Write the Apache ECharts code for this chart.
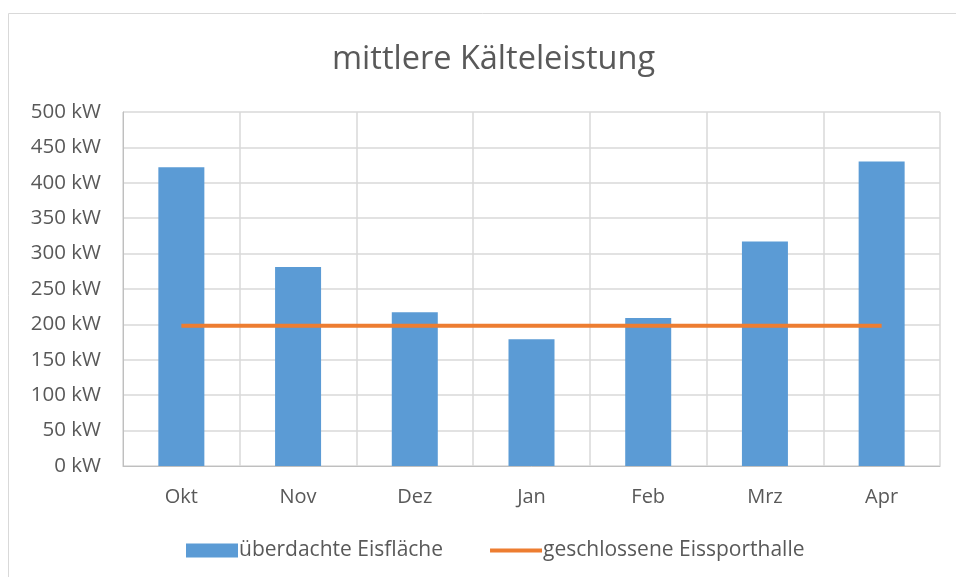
<!DOCTYPE html>
<html>
<head>
<meta charset="utf-8">
<script src="https://cdn.jsdelivr.net/npm/echarts@6/dist/echarts.min.js"></script>
<style>
  html, body { margin: 0; padding: 0; background: #fff; }
  #chart { width: 956px; height: 577px; }
</style>
</head>
<body>
<div id="chart"></div>
<script>
  // Monatswerte
  const months = ['Okt', 'Nov', 'Dez', 'Jan', 'Feb', 'Mrz', 'Apr']
  const ueberdacht = [422, 281, 217, 179, 209, 317, 430]
  const geschlossen = [198, 198, 198, 198, 198, 198, 198]
  const yTicks = [0, 50, 100, 150, 200, 250, 300, 350, 400, 450, 500]

  const font = '"Open Sans", sans-serif'
  const textColor = '#595959'

  const chart = echarts.init(document.getElementById('chart'))
  chart.setOption({
    animation: false,
    textStyle: { fontFamily: font },
    title: {
      text: 'mittlere Kälteleistung',
      left: 327,
      top: 38,
      textStyle: { fontFamily: font, fontSize: 32.5, fontWeight: 'normal', color: textColor }
    },
    graphic: [{
      type: 'rect',
      shape: { x: 8.5, y: 13.5, width: 960, height: 600 },
      style: { fill: 'none', stroke: '#d9d9d9', lineWidth: 1 },
      silent: true
    }],
    legend: {
      bottom: 11,
      left: 181,
      itemWidth: 52,
      itemHeight: 14,
      itemGap: 47,
      textStyle: { fontFamily: font, fontSize: 21, color: textColor, padding: [0, 0, 0, -4] },
      data: [
        { name: 'überdachte Eisfläche', icon: 'rect' },
        { name: 'geschlossene Eissporthalle', icon: 'path://M0,0 L52,0 L52,4 L0,4 Z', itemStyle: { color: '#ED7D31' } }
      ]
    },
    grid: { left: 123, right: 16, top: 112, bottom: 111, containLabel: false },
    xAxis: {
      type: 'category',
      data: months,
      axisLine: { lineStyle: { color: '#bfbfbf', width: 1 } },
      axisTick: { show: false },
      splitLine: { show: true, lineStyle: { color: '#d9d9d9', width: 1.5 } },
      axisLabel: { fontFamily: font, fontSize: 20, color: textColor, margin: 21 }
    },
    yAxis: {
      type: 'value',
      min: yTicks[0],
      max: yTicks[yTicks.length - 1],
      interval: 50,
      axisLine: { show: true, lineStyle: { color: '#bfbfbf', width: 1 } },
      axisTick: { show: false },
      splitLine: { lineStyle: { color: '#d9d9d9', width: 1.5 } },
      axisLabel: { fontFamily: font, fontSize: 20.5, color: textColor, margin: 22, formatter: v => v + ' kW' }
    },
    series: [
      {
        name: 'überdachte Eisfläche',
        type: 'bar',
        data: ueberdacht,
        barWidth: 46,
        itemStyle: { color: '#5B9BD5' }
      },
      {
        name: 'geschlossene Eissporthalle',
        type: 'line',
        data: geschlossen,
        symbol: 'none',
        lineStyle: { color: '#ED7D31', width: 4 },
        itemStyle: { color: '#ED7D31' }
      }
    ]
  })
</script>
</body>
</html>
